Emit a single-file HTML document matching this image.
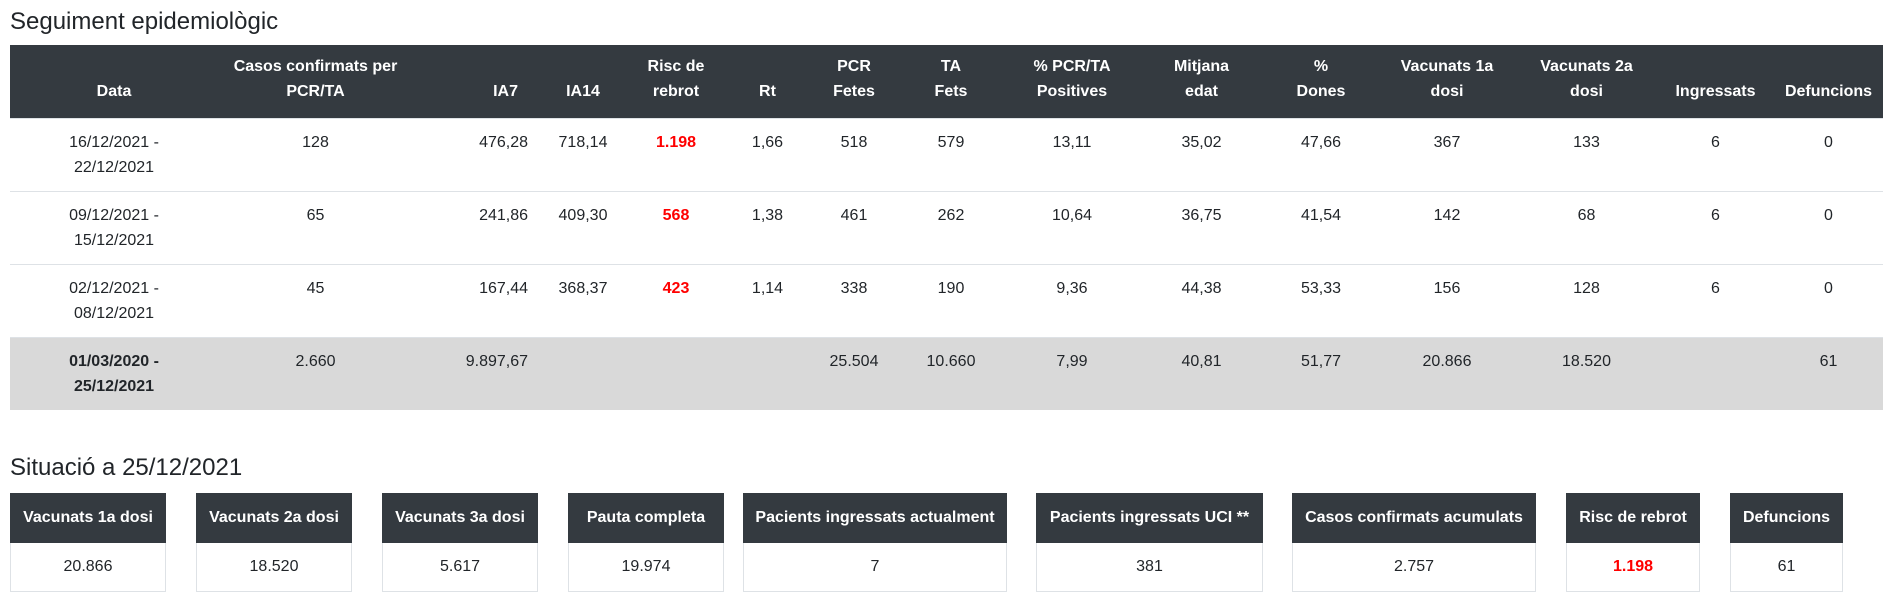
<!DOCTYPE html>
<html><head><meta charset="utf-8"><style>
*{margin:0;padding:0;box-sizing:border-box}
body{width:1892px;height:607px;background:#fff;font-family:"Liberation Sans",Arial,sans-serif;color:#212529;position:relative;overflow:hidden}
h2{position:absolute;left:10px;font-weight:normal;font-size:24px;line-height:28px;color:#212529}
table{position:absolute;left:10px;top:45px;width:1873px;border-collapse:collapse;table-layout:fixed;font-size:16px}
th{background:#343a40;color:#fff;font-weight:bold;vertical-align:bottom;text-align:center;height:73px;padding:0 4px 14px;line-height:25px}
td{text-align:center;vertical-align:top;padding:11px 4px 0;line-height:25px;height:73px;border-top:1px solid #dee2e6}
tr.tot td{background:#d9d9d9;font-weight:normal}
.r{color:#ff0000;font-weight:bold}
.box{position:absolute;top:493px;height:99px;border:1px solid #dee2e6;text-align:center;font-size:16px}
.box .h{background:#343a40;color:#fff;font-weight:bold;height:50px;line-height:50px;margin:-1px -1px 0}
.box .v{line-height:48px}
</style></head><body>
<h2 style="top:8px">Seguiment epidemiològic</h2>
<table>
<colgroup><col style="width:208px"><col style="width:195px"><col style="width:125px"><col style="width:90px"><col style="width:96px"><col style="width:87px"><col style="width:86px"><col style="width:108px"><col style="width:134px"><col style="width:125px"><col style="width:114px"><col style="width:138px"><col style="width:141px"><col style="width:117px"><col style="width:109px"></colgroup>
<tr><th>Data</th><th>Casos confirmats per<br>PCR/TA</th><th style="text-align:right;padding-right:20px">IA7</th><th>IA14</th><th>Risc de<br>rebrot</th><th>Rt</th><th>PCR<br>Fetes</th><th>TA<br>Fets</th><th>% PCR/TA<br>Positives</th><th>Mitjana<br>edat</th><th>%<br>Dones</th><th>Vacunats 1a<br>dosi</th><th>Vacunats 2a<br>dosi</th><th>Ingressats</th><th>Defuncions</th></tr>
<tr><td>16/12/2021 -<br>22/12/2021</td><td>128</td><td style="text-align:right;padding-right:10px">476,28</td><td>718,14</td><td class="r">1.198</td><td>1,66</td><td>518</td><td>579</td><td>13,11</td><td>35,02</td><td>47,66</td><td>367</td><td>133</td><td>6</td><td>0</td></tr>
<tr><td>09/12/2021 -<br>15/12/2021</td><td>65</td><td style="text-align:right;padding-right:10px">241,86</td><td>409,30</td><td class="r">568</td><td>1,38</td><td>461</td><td>262</td><td>10,64</td><td>36,75</td><td>41,54</td><td>142</td><td>68</td><td>6</td><td>0</td></tr>
<tr><td>02/12/2021 -<br>08/12/2021</td><td>45</td><td style="text-align:right;padding-right:10px">167,44</td><td>368,37</td><td class="r">423</td><td>1,14</td><td>338</td><td>190</td><td>9,36</td><td>44,38</td><td>53,33</td><td>156</td><td>128</td><td>6</td><td>0</td></tr>
<tr class="tot"><td style="font-weight:bold">01/03/2020 -<br>25/12/2021</td><td>2.660</td><td style="text-align:right;padding-right:10px">9.897,67</td><td></td><td></td><td></td><td>25.504</td><td>10.660</td><td>7,99</td><td>40,81</td><td>51,77</td><td>20.866</td><td>18.520</td><td></td><td>61</td></tr>
</table>
<h2 style="top:454px">Situació a 25/12/2021</h2>
<div class="box" style="left:10px;width:156px"><div class="h">Vacunats 1a dosi</div><div class="v">20.866</div></div>
<div class="box" style="left:196px;width:156px"><div class="h">Vacunats 2a dosi</div><div class="v">18.520</div></div>
<div class="box" style="left:382px;width:156px"><div class="h">Vacunats 3a dosi</div><div class="v">5.617</div></div>
<div class="box" style="left:568px;width:156px"><div class="h">Pauta completa</div><div class="v">19.974</div></div>
<div class="box" style="left:743px;width:264px"><div class="h">Pacients ingressats actualment</div><div class="v">7</div></div>
<div class="box" style="left:1036px;width:227px"><div class="h">Pacients ingressats UCI **</div><div class="v">381</div></div>
<div class="box" style="left:1292px;width:244px"><div class="h">Casos confirmats acumulats</div><div class="v">2.757</div></div>
<div class="box" style="left:1566px;width:134px"><div class="h">Risc de rebrot</div><div class="v r">1.198</div></div>
<div class="box" style="left:1730px;width:113px"><div class="h">Defuncions</div><div class="v">61</div></div>
</body></html>
